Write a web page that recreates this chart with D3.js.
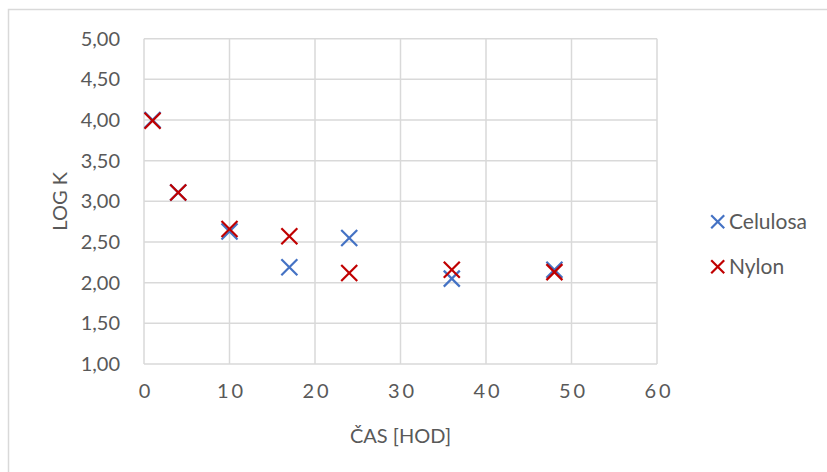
<!DOCTYPE html>
<html>
<head>
<meta charset="utf-8">
<script src="https://cdn.jsdelivr.net/npm/d3@7"></script>
<style>
  html, body { margin: 0; padding: 0; background: #fff; }
  svg { display: block; font-family: Lato, "Open Sans", sans-serif; }
</style>
</head>
<body>
<svg id="chart" width="827" height="472"></svg>
<script>
// Time points (hours) and log K values for each membrane material
const hours = [1, 4, 10, 17, 24, 36, 48];
const celulosa = [4.00, 3.11, 2.63, 2.19, 2.55, 2.05, 2.16];
const nylon = [3.99, 3.11, 2.66, 2.57, 2.12, 2.16, 2.13];
const seriesNames = ["Celulosa", "Nylon"];
const seriesColors = ["#4472C4", "#C00000"];
const xTicks = [0, 10, 20, 30, 40, 50, 60];
const yTicks = [1, 1.5, 2, 2.5, 3, 3.5, 4, 4.5, 5];
const xTitle = "ČAS [HOD]";
const yTitle = "LOG K";

const svg = d3.select("#chart");
const textColor = "#595959";
const gridColor = "#d9d9d9";

// chart frame
svg.append("rect")
  .attr("x", 8.5).attr("y", 9.5)
  .attr("width", 840).attr("height", 500)
  .attr("fill", "none").attr("stroke", gridColor).attr("stroke-width", 1.5);

const plot = { left: 144, right: 657, top: 38.7, bottom: 364 };
const x = d3.scaleLinear().domain([0, 60]).range([plot.left, plot.right]);
const y = d3.scaleLinear().domain([1, 5]).range([plot.bottom, plot.top]);

const fmt = v => d3.format(".2f")(v).replace(".", ",");

// gridlines
const g = svg.append("g");
g.selectAll("line.h").data(yTicks).join("line")
  .attr("x1", plot.left).attr("x2", plot.right)
  .attr("y1", d => y(d)).attr("y2", d => y(d))
  .attr("stroke", gridColor).attr("stroke-width", 1.5);
g.selectAll("line.v").data(xTicks).join("line")
  .attr("y1", plot.top).attr("y2", plot.bottom)
  .attr("x1", d => x(d)).attr("x2", d => x(d))
  .attr("stroke", gridColor).attr("stroke-width", 1.5);

// axes (labels only)
const yAxis = svg.append("g")
  .attr("transform", `translate(${plot.left - 24},0)`)
  .call(d3.axisLeft(y).tickValues(yTicks).tickFormat(fmt).tickSize(0).tickPadding(0));
yAxis.select(".domain").remove();
yAxis.selectAll("text").attr("fill", textColor).style("font-size", "20px")
  .attr("font-family", "Lato, sans-serif");

const xAxis = svg.append("g")
  .attr("transform", `translate(0,${plot.bottom + 20})`)
  .call(d3.axisBottom(x).tickValues(xTicks).tickFormat(d3.format("d")).tickSize(0).tickPadding(0));
xAxis.select(".domain").remove();
xAxis.selectAll("text").attr("fill", textColor).style("font-size", "20px")
  .attr("font-family", "Lato, sans-serif")
  .style("letter-spacing", "3px")
  .attr("dx", "1.5px");

// axis titles
svg.append("text")
  .attr("x", (plot.left + plot.right) / 2).attr("y", 443)
  .attr("text-anchor", "middle").attr("fill", textColor)
  .style("font-size", "20px").text(xTitle);
svg.append("text")
  .attr("transform", `translate(67,${(plot.top + plot.bottom) / 2}) rotate(-90)`)
  .attr("text-anchor", "middle").attr("fill", textColor)
  .style("font-size", "20px").text(yTitle);

// X-shaped marker
function cross(sel, cx, cy, r, color, w) {
  sel.append("line").attr("x1", cx - r).attr("y1", cy - r).attr("x2", cx + r).attr("y2", cy + r)
    .attr("stroke", color).attr("stroke-width", w);
  sel.append("line").attr("x1", cx - r).attr("y1", cy + r).attr("x2", cx + r).attr("y2", cy - r)
    .attr("stroke", color).attr("stroke-width", w);
}

const series = [celulosa, nylon];
series.forEach((vals, i) => {
  const sg = svg.append("g");
  vals.forEach((v, j) => cross(sg, x(hours[j]), y(v), 8, seriesColors[i], 2.2));
});

// legend
const legendY = [221.7, 266.7];
seriesNames.forEach((name, i) => {
  const lg = svg.append("g");
  cross(lg, 717.7, legendY[i], 6.5, seriesColors[i], 2.2);
  lg.append("text")
    .attr("x", 729).attr("y", legendY[i])
    .attr("dy", "0.36em")
    .attr("fill", textColor).style("font-size", "21px").text(name);
});
</script>
</body>
</html>
